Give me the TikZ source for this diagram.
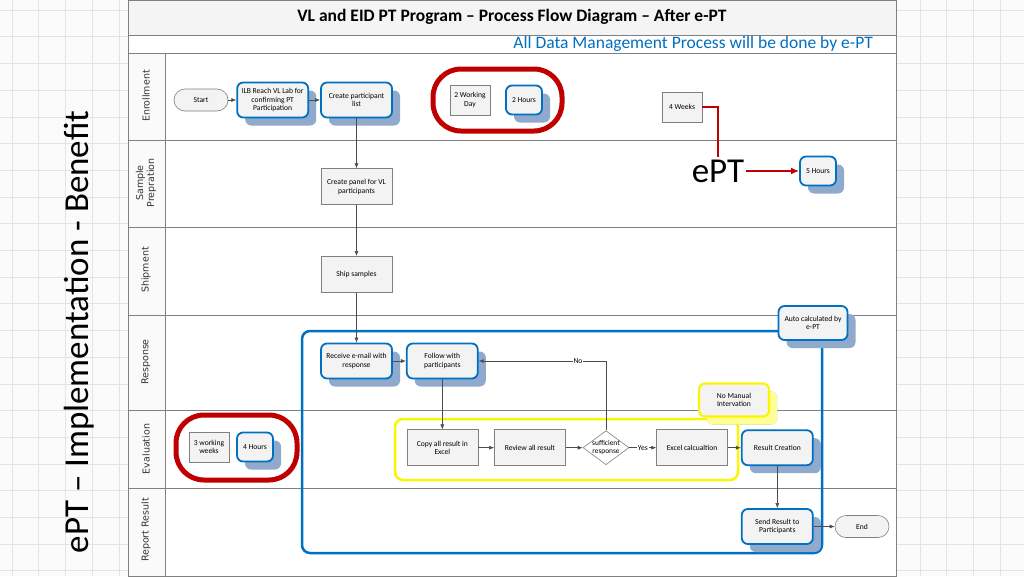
\documentclass[tikz,border=0pt]{standalone}
\usepackage{fontspec}
\setmainfont{Carlito}
\newfontfamily\lanefont{DejaVu Sans}
\usetikzlibrary{arrows.meta}
\usetikzlibrary{positioning}
\usetikzlibrary{shapes.geometric}
\usetikzlibrary{shadows}

\definecolor{epblue}{RGB}{0,112,192}
\definecolor{epred}{RGB}{192,0,0}
\definecolor{epyellow}{RGB}{250,245,0}
\definecolor{boxfill}{RGB}{243,243,243}
\definecolor{shadowblue}{RGB}{143,170,204}
\definecolor{shadowyellow}{RGB}{255,255,150}
\definecolor{laneline}{RGB}{128,128,128}
\definecolor{gridgray}{RGB}{226,229,224}

\begin{document}
\begin{tikzpicture}[
        x=1pt, y=-1pt,
        font=\fontsize{7.6}{8.6}\selectfont,
        bluebox/.style={rectangle, draw=epblue, line width=1.8pt, rounded corners=6pt, fill=boxfill,
            minimum width=71pt, minimum height=35pt, inner sep=1pt, align=center,
            drop shadow={shadow xshift=8pt, shadow yshift=-8pt, fill=shadowblue, opacity=1}},
        smallblue/.style={bluebox, minimum width=36pt, minimum height=29pt},
        graybox/.style={rectangle, draw=laneline, line width=0.6pt, fill=boxfill,
            minimum width=71pt, minimum height=36pt, inner sep=1pt, align=center},
        smallgray/.style={graybox, minimum width=40pt, minimum height=30pt},
        yellowbox/.style={bluebox, draw=epyellow, line width=2.2pt, minimum width=70pt, minimum height=33pt,
            drop shadow={shadow xshift=8pt, shadow yshift=-8pt, fill=shadowyellow, opacity=1}},
        terminal/.style={rectangle, draw=laneline, line width=0.6pt, rounded corners=11pt, fill=boxfill,
            minimum width=54pt, minimum height=22pt},
        decision/.style={diamond, draw=laneline, line width=0.6pt, fill=white,
            minimum width=46pt, minimum height=34pt, inner sep=0pt},
        lanelabel/.style={rotate=90, font=\lanefont\fontsize{9.5}{11}\selectfont, text=black!80, align=center},
        arrow/.style={draw=black!70, line width=0.6pt, -{Latex[length=5pt, width=4pt]}},
        redline/.style={draw=epred, line width=2.2pt},
        redring/.style={draw=epred, line width=5pt, rounded corners=28pt},
        gridline/.style={draw=gridgray, line width=0.5pt}
        ]
        \useasboundingbox (0,0) rectangle (1024,576);

        % graph paper background
        \fill[white!97!gray] (0,0) rectangle (1024,576);
        \foreach \gx in {12,38.7,...,1024} \draw[gridline] (\gx,0) -- (\gx,576);
        \foreach \gy in {10,36.7,...,576} \draw[gridline] (0,\gy) -- (1024,\gy);

        % swimlane frame
        \fill[white] (128,0) rectangle (896,576);
        \fill[gray!9] (128,0) rectangle (896,35);
        \fill[gray!4] (128,53) rectangle (165,576);
        \draw[laneline, line width=0.8pt] (128,0) rectangle (896,576);
        \draw[laneline, line width=0.8pt] (128,35) -- (896,35);
        \draw[laneline, line width=0.8pt] (128,53) -- (896,53);
        \draw[laneline, line width=0.8pt] (128,140) -- (896,140);
        \draw[laneline, line width=0.8pt] (128,227) -- (896,227);
        \draw[laneline, line width=0.8pt] (128,315) -- (896,315);
        \draw[laneline, line width=0.8pt] (128,410) -- (896,410);
        \draw[laneline, line width=0.8pt] (128,488) -- (896,488);
        \draw[laneline, line width=0.8pt] (165,53) -- (165,576);

        % titles
        \node (sidetitle) [rotate=90, font=\fontsize{35}{40}\selectfont] at (79,332) {ePT – Implementation - Benefit};
        \node (title) [font=\fontsize{17.5}{20}\selectfont\bfseries] at (512,17) {VL and EID PT Program – Process Flow Diagram – After e-PT};
        \node (subtitle) [anchor=east, text=epblue, font=\fontsize{17.5}{19}\selectfont, inner sep=0pt] at (873,43.5) {All Data Management Process will be done by e-PT};

        % lane labels
        \node (lnenrol)  [lanelabel] at (146,96)  {Enrollment};
        \node (lnsample) [lanelabel] at (146,183) {Sample\\Prepration};
        \node (lnship)   [lanelabel] at (146,270) {Shipment};
        \node (lnresp)   [lanelabel] at (146,362) {Response};
        \node (lneval)   [lanelabel] at (146,449) {Evaluation};
        \node (lnreport) [lanelabel] at (146,530) {Report Result};

        % groups
        \draw[redring] (433,69) rectangle (562,131);
        \draw[redring] (176,415) rectangle (297,480);
        \draw[epblue, line width=2.5pt, rounded corners=8pt] (302,331) rectangle (822,553);
        \draw[epyellow, line width=2.5pt, rounded corners=8pt] (395,419) rectangle (738,480);

        % main flow
        \node (start)    [terminal] at (201,100) {Start};
        \node (ilb)      [bluebox, right=8pt of start] {ILB Reach VL Lab for\\confirming PT\\Participation};
        \node (partlist) [bluebox, right=11pt of ilb] {Create participant\\list};
        \node (panel)    [graybox, below=50pt of partlist] {Create panel for VL\\participants};
        \node (ship)     [graybox, below=51pt of panel] {Ship samples};
        \node (receive)  [bluebox, below=50pt of ship] {Receive e-mail with\\response};
        \node (follow)   [bluebox, right=13pt of receive] {Follow with\\participants};
        \node (copy)     [graybox, below=50pt of follow] {Copy all result in\\Excel};
        \node (review)   [graybox, right=16pt of copy] {Review all result};
        \node (suff)     [decision, right=17pt of review, label={[align=center, font=\fontsize{7.4}{7.6}\selectfont]center:sufficient\\response}] {};
        \node (excel)    [graybox, right=27pt of suff] {Excel calcualtion};
        \node (result)   [bluebox, right=13pt of excel] {Result Creation};
        \node (send)     [bluebox, below=42pt of result] {Send Result to\\Participants};
        \node (end)      [terminal, right=21pt of send] {End};

        % time notes
        \node (twoday)   [smallgray] at (470,100) {2 Working\\Day};
        \node (twohrs)   [smallblue] at (524,100) {2 Hours};
        \node (weeks)    [smallgray] at (682,107) {4 Weeks};
        \node (ept)      [font=\fontsize{35}{38}\selectfont, inner sep=2pt] at (718,171) {ePT};
        \node (fivehrs)  [smallblue] at (818,171) {5 Hours};
        \node (threewk)  [smallgray] at (209,447) {3 working\\weeks};
        \node (fourhrs)  [smallblue] at (255,447) {4 Hours};
        \node (auto)     [bluebox, minimum width=69pt, minimum height=34pt] at (813,323) {Auto calculated by\\e-PT};
        \node (nomanual) [yellowbox] at (734,400) {No Manual\\Intervation};

        % connectors
        \draw[arrow] (start) -- (ilb);
        \draw[arrow] (ilb) -- (partlist);
        \draw[arrow] (partlist) -- (panel);
        \draw[arrow] (panel) -- (ship);
        \draw[arrow] (ship) -- (receive);
        \draw[arrow] (receive) -- (follow);
        \draw[arrow] (follow) -- (copy);
        \draw[arrow] (copy) -- (review);
        \draw[arrow] (review) -- (suff);
        \draw[arrow] (suff) -- node[fill=white, inner sep=1pt] {Yes} (excel);
        \draw[arrow] (excel) -- (result);
        \draw[arrow] (result) -- (send);
        \draw[arrow] (send) -- (end);
        \draw[arrow] (suff.north) |- node[pos=0.61, fill=white, inner sep=1pt] {No} (follow.east);

        % ePT note
        \draw[redline] (weeks.east) -| (ept.north);
        \draw[redline, -{Latex[length=8pt, width=7pt]}] (ept.east) -- (fivehrs.west);

    \end{tikzpicture}
\end{document}
